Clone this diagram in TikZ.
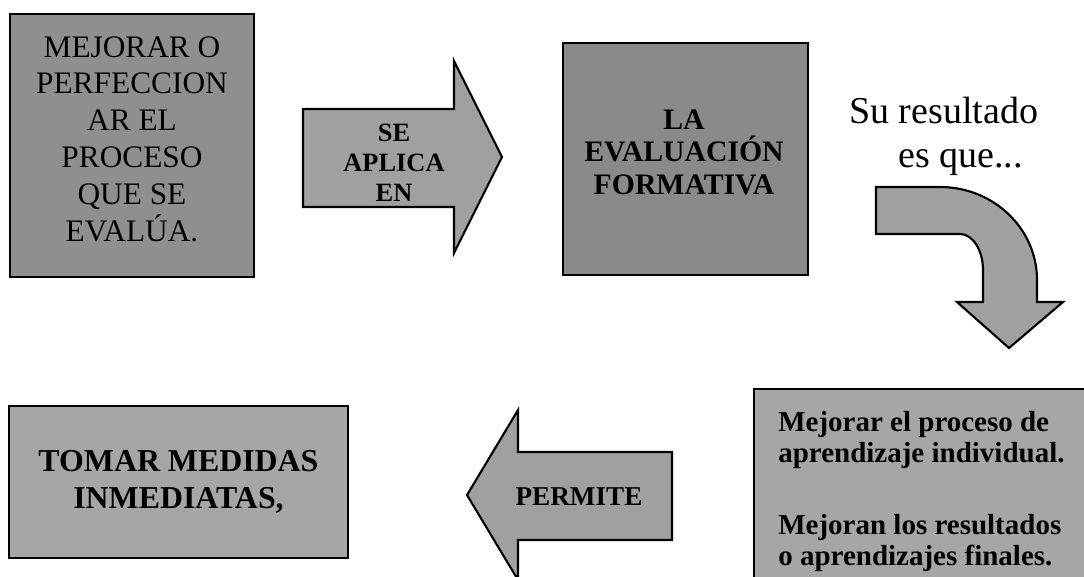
\documentclass[tikz,border=0pt]{standalone}
\usepackage{fontspec}
\setmainfont{Liberation Serif}
\definecolor{cBoxA}{HTML}{8F8F8F}
\definecolor{cBoxB}{HTML}{8A8A8A}
\definecolor{cArrow}{HTML}{A0A0A0}
\definecolor{cBoxC}{HTML}{A6A6A6}
\begin{document}
\begin{tikzpicture}[x=0.75pt,y=-0.75pt,
  panel/.style={draw=black, line width=1.6pt, inner sep=0pt},
  blockarrow/.style={draw=black, line width=1.6pt, line join=miter, fill=cArrow},
  lbl/.style={inner sep=0pt, align=center, text=black}]
\clip (0,0) rectangle (1084,576);
% boxes
\node[panel, fill=cBoxA, minimum width=183pt, minimum height=197.25pt] (b1) at (132,145.5) {};
\node[panel, fill=cBoxB, minimum width=183.75pt, minimum height=174pt] (b2) at (685.5,159) {};
\node[panel, fill=cBoxC, minimum width=254.25pt, minimum height=114pt] (b4) at (178.5,482) {};
\node[panel, fill=cBoxC, minimum width=259.5pt, minimum height=158.25pt] (b3) at (927,494.5) {};
% right arrow
\draw[blockarrow] (303,109) -- (454,109) -- (454,61) -- (502,157) -- (454,253) -- (454,207) -- (303,207) -- cycle;
% curved arrow
\draw[blockarrow] (876,187) -- (940,187) .. controls (993.6,187) and (1037,228.6) .. (1037,280)
  -- (1037,302) -- (1063,302) -- (1009,348) -- (957,302) -- (983,302) -- (983,270)
  .. controls (983,250.1) and (972.7,234) .. (960,234) -- (876,234) -- cycle;
% left arrow
\draw[blockarrow] (672,452) -- (518,452) -- (518,410) -- (467,495) -- (518,580) -- (518,540) -- (672,540) -- cycle;
% texts
\node[lbl, font=\fontsize{23.5pt}{27.6pt}\selectfont] (t1) at (132,139)
  {MEJORAR O\\PERFECCION\\AR EL\\PROCESO\\QUE SE\\EVALÚA.};
\node[lbl, font=\fontsize{19.8pt}{22.5pt}\selectfont\bfseries] (ta) at (394,163)
  {SE\\APLICA\\EN};
\node[lbl, font=\fontsize{22.3pt}{24.4pt}\selectfont\bfseries] (t2) at (684,152)
  {LA\\EVALUACIÓN\\FORMATIVA};
\node[inner sep=0pt, anchor=base west, font=\fontsize{28.5pt}{34pt}\selectfont] (su1) at (849,123) {Su resultado};
\node[inner sep=0pt, anchor=base west, font=\fontsize{28.5pt}{34pt}\selectfont] (su2) at (898,167) {es que...};
\node[lbl, font=\fontsize{23.9pt}{27.75pt}\selectfont\bfseries] (t4) at (178.5,481.5)
  {TOMAR MEDIDAS\\INMEDIATAS,};
\node[lbl, font=\fontsize{20.4pt}{24pt}\selectfont\bfseries] (tp) at (579,497) {PERMITE};
\node[inner sep=0pt, anchor=north west, align=left, font=\fontsize{21.75pt}{23.2pt}\selectfont\bfseries] (t3) at (778,411)
  {Mejorar el proceso de\\aprendizaje individual.\\[31pt]Mejoran los resultados\\o aprendizajes finales.};
\end{tikzpicture}
\end{document}
